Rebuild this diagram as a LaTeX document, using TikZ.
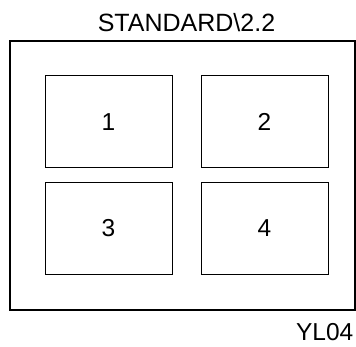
\documentclass[tikz,border=0pt]{standalone}
\usepackage{fontspec}
\setmainfont{Liberation Sans}
\begin{document}
\begin{tikzpicture}[x=1pt,y=-1pt,
  frame/.style={draw=black,line width=1.2pt},
  cell/.style={draw=black,line width=1pt,minimum width=127pt,minimum height=92pt,inner sep=0pt,font=\fontsize{24.5}{28}\selectfont},
  lbl/.style={font=\fontsize{24.5}{28}\selectfont,inner sep=0pt,anchor=base}]
\useasboundingbox (0,0) rectangle (356,347);
\draw[frame] (10,41) rectangle (355,310);
\node[cell] (c1) at (108.5,122) {1};
\node[cell] (c2) at (264.5,122) {2};
\node[cell] (c3) at (108.5,228.5) {3};
\node[cell] (c4) at (264.5,228.5) {4};
\node[lbl,font=\fontsize{25}{29}\selectfont] (title) at (186.5,31.5) {STANDARD\textbackslash 2.2};
\node[lbl,anchor=base east] (code) at (353.5,341) {YL04};
\end{tikzpicture}
\end{document}
